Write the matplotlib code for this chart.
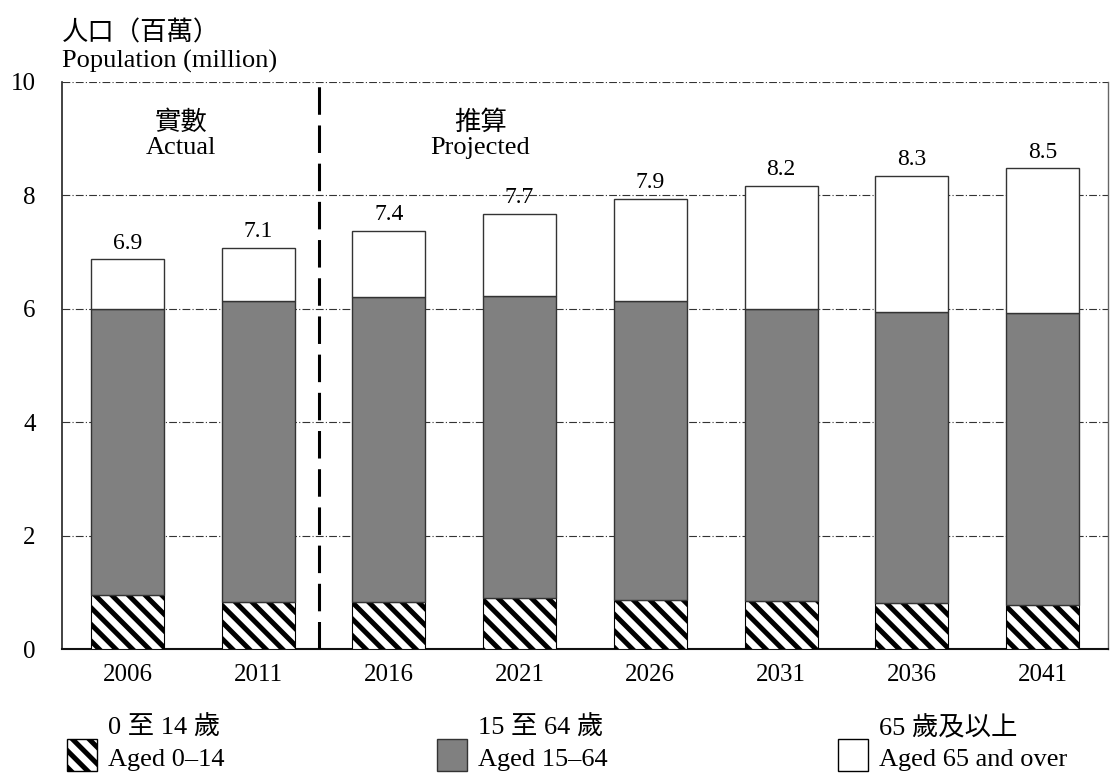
import matplotlib
matplotlib.use("Agg")
import matplotlib.pyplot as plt
import numpy as np
from matplotlib.patches import Rectangle

years = ["2006", "2011", "2016", "2021", "2026", "2031", "2036", "2041"]
aged_0_14 = [0.95, 0.83, 0.83, 0.90, 0.87, 0.85, 0.81, 0.78]
aged_15_64 = [5.05, 5.31, 5.38, 5.33, 5.27, 5.15, 5.13, 5.14]
aged_65 = [0.87, 0.94, 1.17, 1.44, 1.80, 2.17, 2.40, 2.56]
total_labels = ["6.9", "7.1", "7.4", "7.7", "7.9", "8.2", "8.3", "8.5"]
yticks = [0, 2, 4, 6, 8, 10]

FAM = ["Liberation Serif", "Noto Sans CJK TC"]
plt.rcParams['font.family'] = FAM
plt.rcParams['hatch.linewidth'] = 3.6
plt.rcParams['hatch.color'] = 'black'

FS = 19
TFS = 18
VFS = 17

fig = plt.figure(figsize=(11.11, 7.74), dpi=100)
ax = fig.add_axes([62/1111, 1-649/774, (1108-62)/1111, (649-82)/774])

x = np.arange(len(years))
w = 0.56
a = np.array(aged_0_14)
b = np.array(aged_15_64)
c = np.array(aged_65)

ax.bar(x, a, w, color='white', edgecolor='black', linewidth=0.8, hatch='\\\\', zorder=3)
ax.bar(x, b, w, bottom=a, color='#808080', edgecolor='#333333', linewidth=1, zorder=3)
ax.bar(x, c, w, bottom=a+b, color='white', edgecolor='#333333', linewidth=1, zorder=3)

tot = a + b + c
for xi, t, lab in zip(x, tot, total_labels):
    ax.text(xi, t + 0.1, lab, ha='center', va='bottom', fontsize=VFS, family=FAM)

ax.set_xlim(-0.5, 7.5)
ax.set_ylim(0, 10)
ax.set_yticks(yticks)
ax.set_yticklabels([str(v) for v in yticks], fontsize=TFS)
ax.set_xticks(x)
ax.set_xticklabels(years, fontsize=TFS)
ax.tick_params(axis='x', length=0, pad=11)
ax.tick_params(axis='y', length=0, pad=19)

for yv in yticks[1:]:
    ax.axhline(yv, color='#333333', lw=0.8, ls=(0, (7, 2, 1, 2)), zorder=1)

ax.spines['top'].set_visible(False)
ax.spines['right'].set_color('#666666')
ax.spines['right'].set_linewidth(1)
ax.spines['left'].set_color('#222222')
ax.spines['left'].set_linewidth(1.2)
ax.spines['bottom'].set_color('#111111')
ax.spines['bottom'].set_linewidth(1.5)

ax.plot([1.465, 1.465], [0, 9.93], color='black', lw=2.2, ls=(0, (9, 3.5)), zorder=4)

ax.text(0.41, 9.07, "實數\nActual", ha='center', va='center', fontsize=FS, linespacing=1.15, family=FAM)
ax.text(2.70, 9.07, "推算\nProjected", ha='center', va='center', fontsize=FS, linespacing=1.15, family=FAM)

fig.text(62/1111, 1-33/774, "人口（百萬）", ha='left', va='center', fontsize=FS, family=FAM)
fig.text(62/1111, 1-61/774, "Population (million)", ha='left', va='center', fontsize=FS, family=FAM)

# legend
legend_items = [
    (67, "0 至 14 歲", "Aged 0–14", dict(facecolor='white', edgecolor='black', hatch='\\\\')),
    (437, "15 至 64 歲", "Aged 15–64", dict(facecolor='#808080', edgecolor='#333333')),
    (838, "65 歲及以上", "Aged 65 and over", dict(facecolor='white', edgecolor='black')),
]
for px, zh, en, style in legend_items:
    r = Rectangle((px/1111, 1-771/774), 30/1111, 32/774, transform=fig.transFigure,
                  linewidth=1, **style)
    fig.add_artist(r)
    fig.text((px+41)/1111, 1-728/774, zh, ha='left', va='center', fontsize=FS, family=FAM)
    fig.text((px+41)/1111, 1-760/774, en, ha='left', va='center', fontsize=FS, family=FAM)

fig.savefig("out.png", dpi=100)
